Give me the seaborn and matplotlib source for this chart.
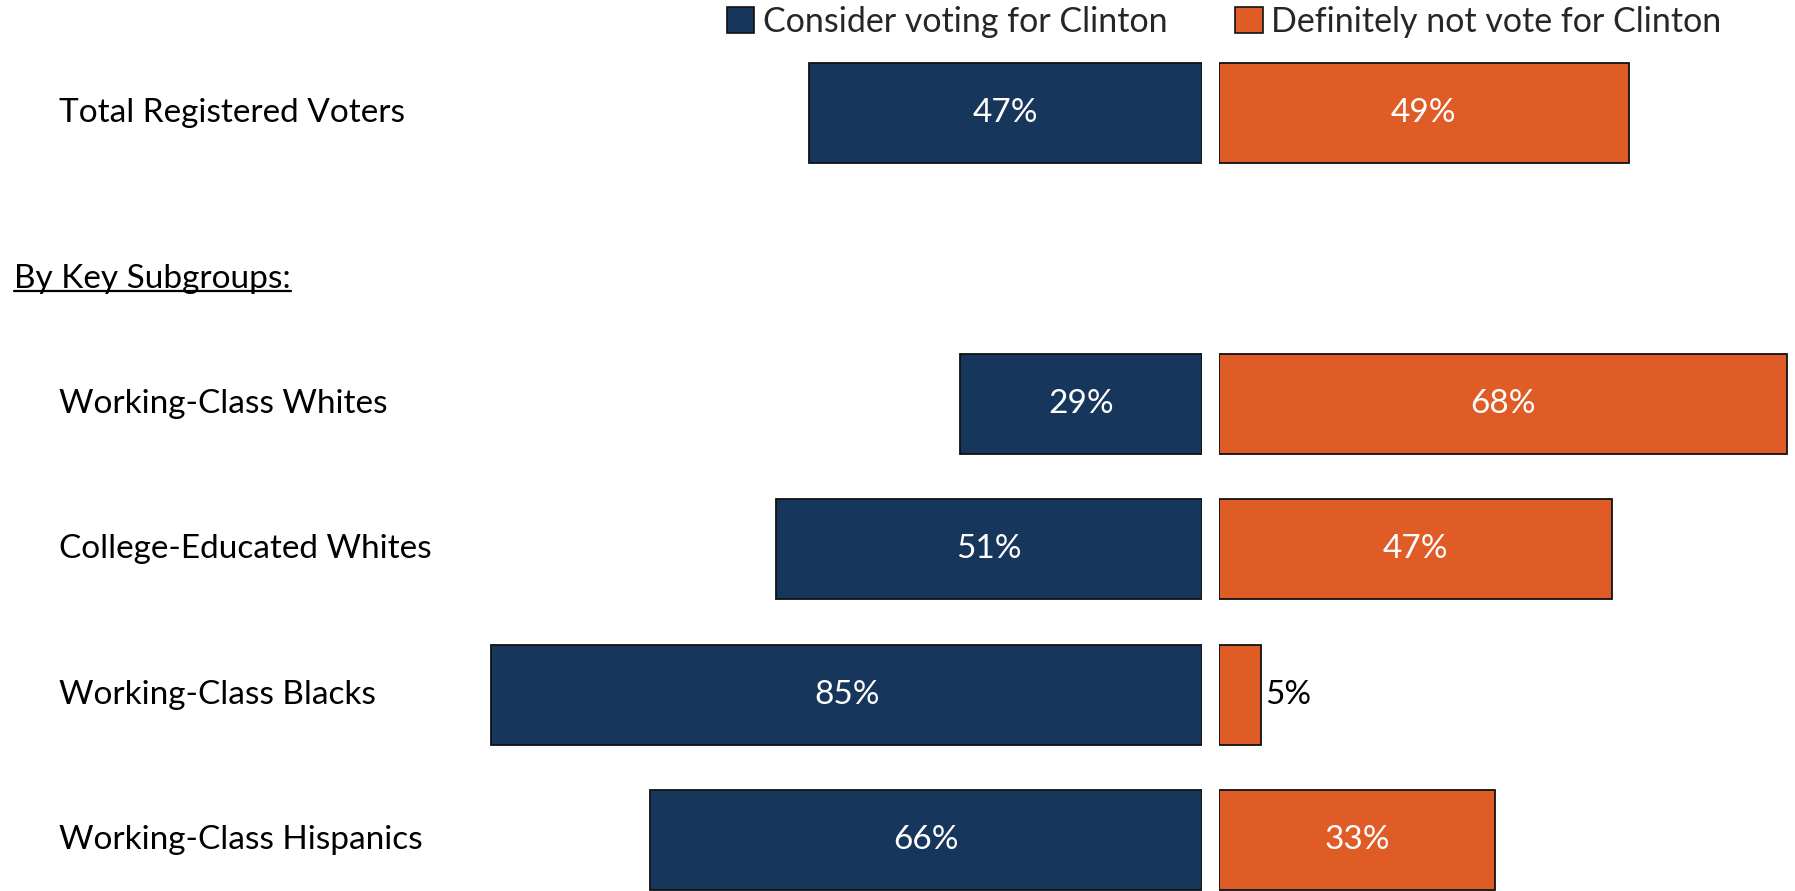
import matplotlib
matplotlib.use("Agg")
import matplotlib.pyplot as plt
import matplotlib.transforms as mtransforms
from matplotlib.patches import Patch
import seaborn as sns
import pandas as pd

# ---------------------------------------------------------------------------
# DATA
# ---------------------------------------------------------------------------
groups = ["Total Registered Voters", "Working-Class Whites", "College-Educated Whites",
          "Working-Class Blacks", "Working-Class Hispanics"]
consider = [47, 29, 51, 85, 66]
definitely_not = [49, 68, 47, 5, 33]
series_names = ["Consider voting for Clinton", "Definitely not vote for Clinton"]
section_header = "By Key Subgroups:"

NAVY = "#16365C"
ORANGE = "#DF5C27"
EDGE = "#111111"

sns.set_theme(style="white")
plt.rcParams["font.family"] = ["Lato", "DejaVu Sans"]

df = pd.DataFrame({"group": groups, "consider": consider, "not": definitely_not})
# blank slot between the total row and the subgroup rows
order = [groups[0], " "] + groups[1:]

W, H = 1795, 891
fig = plt.figure(figsize=(W / 100, H / 100), dpi=100)

zero_left, zero_right = 1202, 1219      # pixel positions of the two zero lines
px_per_pct = 8.36
ax_l = fig.add_axes([0, 0, zero_left / W, 1])
ax_r = fig.add_axes([zero_right / W, 0, (W - zero_right) / W, 1])

bar_kw = dict(orient="h", order=order, width=0.69, edgecolor=EDGE, linewidth=1.3,
              errorbar=None, saturation=1)
sns.barplot(data=df, x="consider", y="group", color=NAVY, ax=ax_l, **bar_kw)
sns.barplot(data=df, x="not", y="group", color=ORANGE, ax=ax_r, **bar_kw)

ylim = (5.35, -0.777)
ax_l.set_xlim(zero_left / px_per_pct, 0)
ax_r.set_xlim(0, (W - zero_right) / px_per_pct)
for ax in (ax_l, ax_r):
    ax.set_ylim(*ylim)
    ax.set_axis_off()

ypos = {g: order.index(g) for g in groups}

VAL_FS = 24
# value labels
for g, v in zip(groups, consider):
    ax_l.text(v / 2, ypos[g], f"{v}%", ha="center", va="center", color="white", fontsize=VAL_FS)
for g, v in zip(groups, definitely_not):
    if v < 10:
        ax_r.text(v + 0.5, ypos[g], f"{v}%", ha="left", va="center", color="black", fontsize=VAL_FS)
    else:
        ax_r.text(v / 2, ypos[g], f"{v}%", ha="center", va="center", color="white", fontsize=VAL_FS)

# row labels on the left
trans = mtransforms.blended_transform_factory(fig.transFigure, ax_l.transData)
for g in groups:
    fig.text(59 / W, ypos[g], g, transform=trans, ha="left", va="center",
             fontsize=24, color="black")
hdr = fig.text(14 / W, 1.14, section_header, transform=trans, ha="left", va="center",
               fontsize=24, color="black")

fig.canvas.draw()
bb = hdr.get_window_extent().transformed(fig.transFigure.inverted())
fig.add_artist(plt.Line2D([bb.x0, bb.x1], [bb.y0 + 0.003, bb.y0 + 0.003],
                          transform=fig.transFigure, color="black", lw=1.6))

handles = [Patch(facecolor=NAVY, edgecolor=EDGE, linewidth=1.2),
           Patch(facecolor=ORANGE, edgecolor=EDGE, linewidth=1.2)]
fig.legend(handles, series_names, loc="center left", bbox_to_anchor=(727 / W, 1 - 22 / H),
           ncol=2, frameon=False, fontsize=24.5, handlelength=0.8, handleheight=0.8,
           handletextpad=0.25, columnspacing=2.0, borderaxespad=0, borderpad=0)

fig.savefig("out.png", dpi=100)
